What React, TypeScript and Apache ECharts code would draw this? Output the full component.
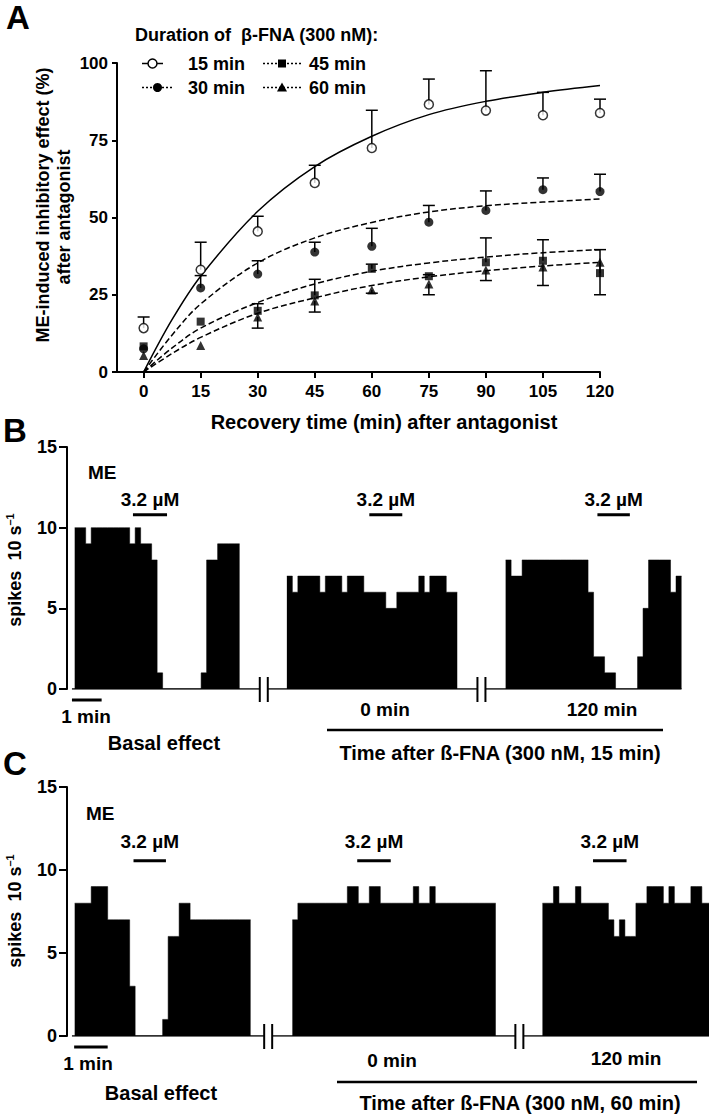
import React, { useEffect, useRef } from 'react';
import * as echarts from 'echarts';

// ---------- Panel A data ----------
const TIMES = [0, 15, 30, 45, 60, 75, 90, 105, 120];
const MEAN_15 = [14.2, 33.1, 45.5, 61.2, 72.5, 86.6, 84.6, 83.1, 83.8];
const SEM_15 = [3.6, 8.9, 4.9, 5.7, 12.2, 8.2, 12.9, 7.4, 4.5];
const MEAN_30 = [7.5, 27.2, 31.7, 38.8, 40.7, 48.5, 52.3, 59.0, 58.4];
const SEM_30 = [0, 4.0, 4.3, 3.2, 5.8, 5.4, 6.3, 3.8, 5.6];
const MEAN_45 = [8.3, 16.3, 19.8, 24.8, 33.4, 31.0, 35.5, 36.0, 32.0];
const SEM_45_UP = [0, 0, 2.3, 5.2, 1.5, 0.5, 7.9, 6.8, 7.6];
const MEAN_60 = [5.3, 8.6, 17.8, 23.0, 26.5, 28.5, 33.0, 34.0, 35.5];
const SEM_60_DOWN = [0, 0, 3.6, 3.6, 1.0, 3.5, 3.4, 6.0, 10.5];

const FIT_TIMES = [0, 7.5, 15, 30, 45, 60, 75, 90, 105, 120];
const FIT_15 = [0, 17, 31, 52, 66.5, 76.3, 83.3, 87.6, 90.5, 92.7];
const FIT_30 = [0, 12, 22, 35.3, 43.4, 48.4, 51.8, 53.8, 55, 56];
const FIT_45 = [0, 7.8, 14.2, 22.5, 28.5, 32.6, 35.3, 37.2, 38.6, 39.6];
const FIT_60 = [0, 6, 11.2, 19, 24, 28, 30.8, 32.8, 34.3, 35.5];

// ---------- Panel B data (spikes per 10-s bin) ----------
const B_STARTS = [0, 38.6, 78.4];
const B_SEG1 = [10, 10, 9, 10, 10, 10, 10, 10, 10, 10, 9, 10, 9, 9, 8, 1, 0, 0, 0, 0, 0, 0, 0, 1, 8, 8, 9, 9, 9, 9];
const B_SEG2 = [7, 6, 7, 7, 7, 7, 6, 7, 7, 7, 6, 7, 7, 7, 6, 6, 6, 6, 5, 5, 6, 6, 6, 6, 7, 6, 7, 7, 7, 6, 6];
const B_SEG3 = [8, 7, 7, 8, 8, 8, 8, 8, 8, 8, 8, 8, 8, 8, 8, 6, 2, 2, 1, 1, 0, 0, 0, 0, 2, 5, 8, 8, 8, 8, 6, 7];
const B_BREAKS = [34.4, 74.0];
const B_DRUG = [[10.6, 16.8], [53.6, 59.6], [95.1, 101]];
const B_SCALE = [-0.5, 4.9];

// ---------- Panel C data ----------
const C_STARTS = [0, 39.6, 85.1];
const C_SEG1 = [8, 8, 8, 9, 9, 9, 7, 7, 7, 7, 3, 0, 0, 0, 0, 0, 1, 6, 6, 8, 8, 7, 7, 7, 7, 7, 7, 7, 7, 7, 7, 7];
const C_SEG2 = [7, 8, 8, 8, 8, 8, 8, 8, 8, 8, 9, 9, 8, 8, 9, 9, 8, 8, 8, 8, 8, 8, 9, 8, 8, 9, 8, 8, 8, 8, 8, 8, 8, 8, 8, 8, 8];
const C_SEG3 = [8, 8, 9, 8, 8, 8, 9, 8, 8, 8, 8, 8, 7, 6, 7, 6, 6, 8, 8, 9, 9, 9, 8, 9, 8, 8, 8, 9, 9, 8, 8];
const C_BREAKS = [35.2, 80.9];
const C_DRUG = [[10.7, 16.6], [51.4, 57.5], [94.3, 100.4]];
const C_SCALE = [-0.1, 6.0];

const DRUG_LABEL = '3.2 µM';
const FONT = '"Liberation Sans", Arial, Helvetica, sans-serif';

function txt(text: string, x: number, y: number, size: number, align = 'center', extra: any = {}) {
  return {
    type: 'text', x, y, ...extra,
    style: {
      text, fontSize: size, fontWeight: 'bold', fontFamily: FONT, fill: '#000',
      textAlign: align, textVerticalAlign: 'middle',
    },
  };
}

export default function App() {
  const ref = useRef<HTMLDivElement>(null);
  useEffect(() => {
    if (!ref.current) return;
    const chart = echarts.init(ref.current, undefined, { renderer: 'svg' });

    const stepSeries = (idx: number, start: number, seg: number[]) => ({
      type: 'line', xAxisIndex: idx, yAxisIndex: idx, step: 'end', symbol: 'none', silent: true, z: 3,
      data: [...seg.map((v, k) => [start + k, v]), [start + seg.length, seg[seg.length - 1]]],
      lineStyle: { color: '#000', width: 0.5 },
      areaStyle: { color: '#000', opacity: 1 },
    });

    const baseSeries = (idx: number, from: number, to: number) => ({
      type: 'line', xAxisIndex: idx, yAxisIndex: idx, data: [[from, 0], [to, 0]],
      symbol: 'none', silent: true, z: 2, lineStyle: { color: '#000', width: 1.5 },
    });

    const breakSeries = (idx: number, data: number[]) => ({
      type: 'custom', xAxisIndex: idx, yAxisIndex: idx, data: data.map((d) => [d, 0]), silent: true, z: 4,
      encode: { x: 0, y: 1 },
      renderItem: (p: any, api: any) => {
        const c = api.coord([api.value(0), 0]);
        return {
          type: 'group', children: [
            { type: 'rect', shape: { x: c[0] - 4, y: c[1] - 2, width: 8, height: 4 }, style: { fill: '#fff' } },
            { type: 'line', shape: { x1: c[0] - 4, y1: c[1] - 12, x2: c[0] - 4, y2: c[1] + 13 }, style: { stroke: '#000', lineWidth: 2 } },
            { type: 'line', shape: { x1: c[0] + 4, y1: c[1] - 12, x2: c[0] + 4, y2: c[1] + 13 }, style: { stroke: '#000', lineWidth: 2 } },
          ],
        };
      },
    });

    const drugSeries = (idx: number, data: number[][], yVal: number, labelGap: number) => ({
      type: 'custom', xAxisIndex: idx, yAxisIndex: idx, data: data.map((d) => [d[0], d[1], yVal]), silent: true, z: 4,
      encode: { x: [0, 1], y: 2 },
      renderItem: (p: any, api: any) => {
        const a = api.coord([api.value(0), api.value(2)]);
        const b = api.coord([api.value(1), api.value(2)]);
        return {
          type: 'group', children: [
            { type: 'line', shape: { x1: a[0], y1: a[1], x2: b[0], y2: b[1] }, style: { stroke: '#000', lineWidth: 3 } },
            {
              type: 'text', x: (a[0] + b[0]) / 2, y: a[1] - labelGap,
              style: { text: DRUG_LABEL, fontSize: 19, fontWeight: 'bold', fontFamily: FONT, fill: '#000', textAlign: 'center', textVerticalAlign: 'middle' },
            },
          ],
        };
      },
    });

    const scaleSeries = (idx: number, s: number[]) => ({
      type: 'custom', xAxisIndex: idx, yAxisIndex: idx, data: [[s[0], s[1], 0]], silent: true, z: 4,
      encode: { x: [0, 1], y: 2 },
      renderItem: (p: any, api: any) => {
        const a = api.coord([api.value(0), 0]);
        const b = api.coord([api.value(1), 0]);
        return { type: 'line', shape: { x1: a[0], y1: a[1] + 11, x2: b[0], y2: b[1] + 11 }, style: { stroke: '#000', lineWidth: 3 } };
      },
    });

    const errSeries = (ends: number[][]) => ({
      type: 'custom', xAxisIndex: 0, yAxisIndex: 0, data: ends, silent: true, z: 3,
      encode: { x: 0, y: [1, 2] },
      renderItem: (p: any, api: any) => {
        const x = api.value(0), y = api.value(1), e = api.value(2);
        if (e === y) return { type: 'group', children: [] };
        const a = api.coord([x, y]);
        const b = api.coord([x, e]);
        return {
          type: 'group', children: [
            { type: 'line', shape: { x1: a[0], y1: a[1], x2: b[0], y2: b[1] }, style: { stroke: '#000', lineWidth: 1.5 } },
            { type: 'line', shape: { x1: b[0] - 6, y1: b[1], x2: b[0] + 6, y2: b[1] }, style: { stroke: '#000', lineWidth: 1.5 } },
          ],
        };
      },
    });

    const fit = (vals: number[], dashed: boolean) => ({
      type: 'line', xAxisIndex: 0, yAxisIndex: 0, smooth: 0.35, symbol: 'none', silent: true, z: 2,
      data: FIT_TIMES.map((t, i) => [t, vals[i]]),
      lineStyle: { color: '#000', width: 1.5, type: dashed ? [6, 3] : 'solid' },
    });

    const pts = (vals: number[], symbol: string, size: number, open: boolean) => ({
      type: 'scatter', xAxisIndex: 0, yAxisIndex: 0, symbol, symbolSize: size, silent: true, z: 5,
      data: TIMES.map((t, i) => [t, vals[i]]),
      itemStyle: open ? { color: '#fff', borderColor: '#000', borderWidth: 1.5 } : { color: '#000' },
    });

    const axisText = { color: '#000', fontWeight: 'bold', fontFamily: FONT };
    const histY = (idx: number) => ({
      gridIndex: idx, type: 'value', min: 0, max: 15, interval: 5,
      axisLine: { show: true, onZero: false, lineStyle: { color: '#000', width: 2 } },
      axisTick: { show: true, length: 8, lineStyle: { color: '#000', width: 2 } },
      axisLabel: { ...axisText, fontSize: 18, margin: 10 },
      splitLine: { show: false },
    });
    const histX = (idx: number) => ({ gridIndex: idx, type: 'value', min: -1.4, max: 115.4, show: false });

    const legendLine = (x1: number, x2: number, y: number, dotted: boolean) => ({
      type: 'line', shape: { x1, y1: y, x2, y2: y },
      style: { stroke: '#000', lineWidth: 1.5, lineDash: dotted ? [2, 2] : null },
    });

    const spikesLabel = (x: number, y: number) => ({
      type: 'text', x, y, rotation: Math.PI / 2,
      style: {
        text: '{a|spikes  10 s}{b|–1}',
        textAlign: 'center', textVerticalAlign: 'middle',
        rich: {
          a: { fontSize: 18, fontWeight: 'bold', fontFamily: FONT, fill: '#000', lineHeight: 22 },
          b: { fontSize: 11, fontWeight: 'bold', fontFamily: FONT, fill: '#000', verticalAlign: 'top', lineHeight: 22 },
        },
      },
    });

    const option: any = {
      animation: false,
      backgroundColor: '#fff',
      grid: [
        { left: 117, top: 63, width: 483, height: 309 },
        { left: 67, top: 447, width: 642, height: 242 },
        { left: 67, top: 787, width: 642, height: 249 },
      ],
      xAxis: [
        {
          gridIndex: 0, type: 'value', min: -7, max: 120,
          axisLine: { show: true, onZero: false, lineStyle: { color: '#000', width: 2 } },
          axisTick: { show: true, length: 6, customValues: TIMES, lineStyle: { color: '#000', width: 2 } },
          axisLabel: { ...axisText, fontSize: 17, margin: 11, customValues: TIMES },
          splitLine: { show: false },
        },
        histX(1), histX(2),
      ],
      yAxis: [
        {
          gridIndex: 0, type: 'value', min: 0, max: 100, interval: 25,
          axisLine: { show: true, onZero: false, lineStyle: { color: '#000', width: 2 } },
          axisTick: { show: true, length: 5, lineStyle: { color: '#000', width: 2 } },
          axisLabel: { ...axisText, fontSize: 17, margin: 9 },
          splitLine: { show: false },
        },
        histY(1), histY(2),
      ],
      series: [
        fit(FIT_15, false), fit(FIT_30, true), fit(FIT_45, true), fit(FIT_60, true),
        errSeries(TIMES.map((t, i) => [t, MEAN_15[i], MEAN_15[i] + SEM_15[i]])),
        errSeries(TIMES.map((t, i) => [t, MEAN_30[i], MEAN_30[i] + SEM_30[i]])),
        errSeries(TIMES.map((t, i) => [t, MEAN_45[i], MEAN_45[i] + SEM_45_UP[i]])),
        errSeries(TIMES.map((t, i) => [t, MEAN_60[i], MEAN_60[i] - SEM_60_DOWN[i]])),
        pts(MEAN_60, 'triangle', 9, false),
        pts(MEAN_45, 'rect', 8, false),
        pts(MEAN_30, 'circle', 9, false),
        pts(MEAN_15, 'circle', 9, true),

        baseSeries(1, -0.5, B_STARTS[2] + B_SEG3.length),
        stepSeries(1, B_STARTS[0], B_SEG1),
        stepSeries(1, B_STARTS[1], B_SEG2),
        stepSeries(1, B_STARTS[2], B_SEG3),
        breakSeries(1, B_BREAKS),
        drugSeries(1, B_DRUG, 10.8, 15),
        scaleSeries(1, B_SCALE),

        baseSeries(2, -0.5, C_STARTS[2] + C_SEG3.length),
        stepSeries(2, C_STARTS[0], C_SEG1),
        stepSeries(2, C_STARTS[1], C_SEG2),
        stepSeries(2, C_STARTS[2], C_SEG3),
        breakSeries(2, C_BREAKS),
        drugSeries(2, C_DRUG, 10.55, 19),
        scaleSeries(2, C_SCALE),
      ],
      graphic: [
        txt('A', 6, 17, 33, 'left'),
        txt('B', 3, 430, 33, 'left'),
        txt('C', 3, 763, 33, 'left'),
        // Panel A legend
        txt('Duration of  β-FNA (300 nM):', 135, 35, 18, 'left'),
        legendLine(142, 163, 63.5, false),
        { type: 'circle', shape: { cx: 152.5, cy: 63.5, r: 4.5 }, style: { fill: '#fff', stroke: '#000', lineWidth: 1.5 } },
        txt('15 min', 188, 63.5, 18, 'left'),
        legendLine(142, 173, 87.5, true),
        { type: 'circle', shape: { cx: 157.5, cy: 87.5, r: 4.5 }, style: { fill: '#000' } },
        txt('30 min', 188, 87.5, 18, 'left'),
        legendLine(263, 301, 63.5, true),
        { type: 'rect', shape: { x: 278, y: 59.5, width: 8, height: 8 }, style: { fill: '#000' } },
        txt('45 min', 309, 63.5, 18, 'left'),
        legendLine(263, 301, 87.5, true),
        { type: 'polygon', shape: { points: [[282, 82.5], [287, 91.5], [277, 91.5]] }, style: { fill: '#000' } },
        txt('60 min', 309, 87.5, 18, 'left'),
        // Panel A axis titles
        txt('ME-induced inhibitory effect (%)', 43, 205, 18, 'center', { rotation: Math.PI / 2 }),
        txt('after antagonist', 64, 217, 18, 'center', { rotation: Math.PI / 2 }),
        txt('Recovery time (min) after antagonist', 384, 422, 20),
        // Panel B annotations
        spikesLabel(15, 570),
        txt('ME', 88, 472, 19, 'left'),
        txt('1 min', 86, 716, 19),
        txt('0 min', 385, 709, 19),
        txt('120 min', 602, 709, 19),
        { type: 'line', shape: { x1: 327, y1: 730, x2: 663, y2: 730 }, style: { stroke: '#000', lineWidth: 2.5 } },
        txt('Basal effect', 164, 743, 20),
        txt('Time after ß-FNA (300 nM, 15 min)', 500, 753, 20),
        // Panel C annotations
        spikesLabel(15, 911),
        txt('ME', 86, 813, 19, 'left'),
        txt('1 min', 88, 1063, 19),
        txt('0 min', 392, 1060, 19),
        txt('120 min', 626, 1058, 19),
        { type: 'line', shape: { x1: 337, y1: 1082, x2: 697, y2: 1082 }, style: { stroke: '#000', lineWidth: 2.5 } },
        txt('Basal effect', 161, 1093, 20),
        txt('Time after ß-FNA (300 nM, 60 min)', 520, 1103, 20),
      ],
    };
    chart.setOption(option);
    return () => chart.dispose();
  }, []);

  return (
    <div
      ref={ref}
      style={{ position: 'absolute', left: 0, top: 0, width: 709, height: 1115, background: '#fff' }}
    />
  );
}
